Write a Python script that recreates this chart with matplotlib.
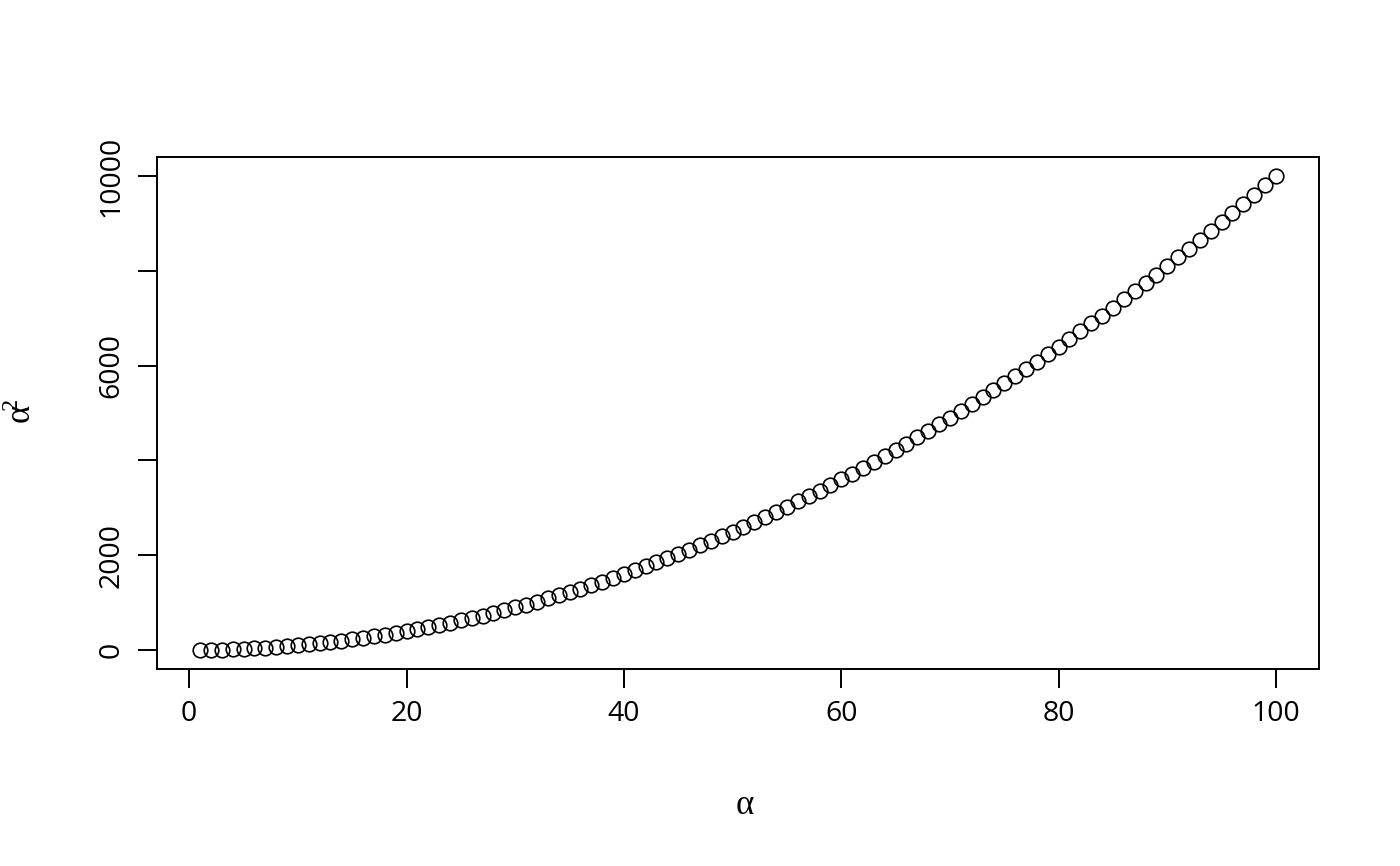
import matplotlib
matplotlib.use("Agg")
import matplotlib.pyplot as plt

x_values = list(range(1, 101))
y_values = [1, 4, 9, 16, 25, 36, 49, 64, 81, 100,
            121, 144, 169, 196, 225, 256, 289, 324, 361, 400,
            441, 484, 529, 576, 625, 676, 729, 784, 841, 900,
            961, 1024, 1089, 1156, 1225, 1296, 1369, 1444, 1521, 1600,
            1681, 1764, 1849, 1936, 2025, 2116, 2209, 2304, 2401, 2500,
            2601, 2704, 2809, 2916, 3025, 3136, 3249, 3364, 3481, 3600,
            3721, 3844, 3969, 4096, 4225, 4356, 4489, 4624, 4761, 4900,
            5041, 5184, 5329, 5476, 5625, 5776, 5929, 6084, 6241, 6400,
            6561, 6724, 6889, 7056, 7225, 7396, 7569, 7744, 7921, 8100,
            8281, 8464, 8649, 8836, 9025, 9216, 9409, 9604, 9801, 10000]
x_ticks = [0, 20, 40, 60, 80, 100]
y_ticks = [0, 2000, 4000, 6000, 8000, 10000]
y_tick_labels = ["0", "2000", "", "6000", "", "10000"]

plt.rcParams['font.family'] = ['Open Sans', 'DejaVu Sans']
plt.rcParams['mathtext.fontset'] = 'custom'
plt.rcParams['mathtext.rm'] = 'Liberation Serif'
plt.rcParams['mathtext.it'] = 'Liberation Serif'
plt.rcParams['mathtext.default'] = 'rm'

fig = plt.figure(figsize=(14, 8.66), dpi=100)
ax = fig.add_axes([157/1400, 1-669/866, (1319-157)/1400, (669-157)/866])

ax.plot(x_values, y_values, linestyle='none', marker='o', markersize=10.5,
        markerfacecolor='none', markeredgecolor='black', markeredgewidth=1.2)

ax.set_xlim(-2.96, 103.96)
ax.set_ylim(-399, 10400)
for s in ax.spines.values():
    s.set_linewidth(1.4)

ax.set_xticks(x_ticks)
ax.set_xticklabels([str(t) for t in x_ticks])
ax.set_yticks(y_ticks)
ax.set_yticklabels(y_tick_labels, rotation=90, va='center')
ax.tick_params(axis='both', direction='out', length=13.5, width=1.4,
               labelsize=20.5, pad=9)

fig.text(745/1400, 1-805/866, 'α', ha='center', va='center', fontsize=25,
         family='Liberation Serif')
fig.text(22/1400, 1-411/866, r'$\alpha^{\hspace{-0.3}2}$', ha='center', va='center',
         fontsize=25, rotation=90)

fig.savefig("out.png", dpi=100)
